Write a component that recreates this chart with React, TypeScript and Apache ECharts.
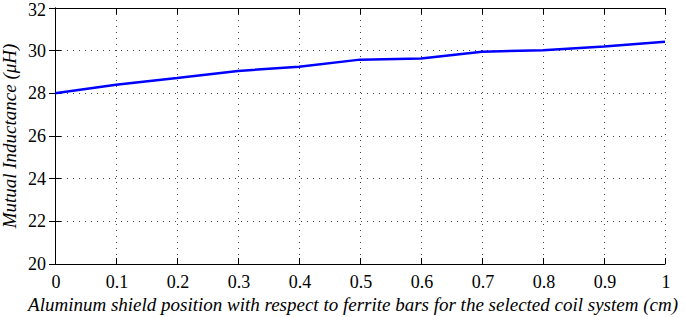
import React, { useEffect, useRef } from "react";
import * as echarts from "echarts";

const positions = [0, 0.1, 0.2, 0.3, 0.4, 0.5, 0.6, 0.7, 0.8, 0.9, 1.0];
const inductance = [28.0, 28.4, 28.72, 29.05, 29.25, 29.58, 29.63, 29.95, 30.02, 30.2, 30.42];
const xTicks = [0, 0.1, 0.2, 0.3, 0.4, 0.5, 0.6, 0.7, 0.8, 0.9, 1];
const xTickLabels = ["0", "0.1", "0.2", "0.3", "0.4", "0.5", "0.6", "0.7", "0.8", "0.9", "1"];
const yTicks = [20, 22, 24, 26, 28, 30, 32];
const yTickLabels = ["20", "22", "24", "26", "28", "30", "32"];
const xTitle = "Aluminum shield position with respect to ferrite bars for the selected coil system (cm)";
const yTitle = "Mutual Inductance (\u03bcH)";

const FONT = "Liberation Serif";

export default function App() {
  const ref = useRef<HTMLDivElement>(null);
  useEffect(() => {
    if (!ref.current) return;
    const chart = echarts.init(ref.current, null, { renderer: "svg" });
    const axisLine = { show: true, lineStyle: { color: "#000", width: 1 } };
    const tick = { show: true, inside: true, length: 6, lineStyle: { color: "#000" } };
    const split = { show: true, lineStyle: { color: "#444", width: 1, type: [1, 5] as any } };
    const xBase = { type: "value", min: 0, max: 1, interval: 0.1, axisLine, axisTick: tick, axisLabel: { show: false } };
    const yBase = { type: "value", min: 20, max: 32, interval: 2, axisLine, axisTick: tick, axisLabel: { show: false } };
    chart.setOption({
      animation: false,
      backgroundColor: "#fff",
      grid: { left: 55, right: 20, top: 8, bottom: 53, containLabel: false, outerBoundsMode: "none" },
      xAxis: [
        { ...xBase, position: "bottom", splitLine: split },
        { ...xBase, position: "top", splitLine: { show: false } },
      ],
      yAxis: [
        { ...yBase, position: "left", splitLine: split },
        { ...yBase, position: "right", splitLine: { show: false } },
      ],
      series: [
        {
          type: "line",
          data: positions.map((p, i) => [p, inductance[i]]),
          showSymbol: false,
          lineStyle: { color: "#0000ff", width: 2.5 },
          xAxisIndex: 0,
          yAxisIndex: 0,
        },
      ],
    });

    const finder = { xAxisIndex: 0, yAxisIndex: 0 };
    const origin = chart.convertToPixel(finder, [0, 20]) as number[];
    const corner = chart.convertToPixel(finder, [1, 32]) as number[];
    const leftX = origin[0];
    const bottomY = origin[1];
    const rightX = corner[0];
    const topY = corner[1];
    const graphics: any[] = [];
    xTicks.forEach((v, i) => {
      const px = chart.convertToPixel(finder, [v, 20]) as number[];
      graphics.push({
        type: "text",
        x: px[0] + 1,
        y: bottomY + 17.5,
        style: { text: xTickLabels[i], fontFamily: FONT, fontSize: 18, fill: "#000", align: "center", verticalAlign: "middle" },
      });
    });
    yTicks.forEach((v, i) => {
      const px = chart.convertToPixel(finder, [0, v]) as number[];
      graphics.push({
        type: "text",
        x: leftX - 9,
        y: Math.max(px[1], 9.5),
        style: { text: yTickLabels[i], fontFamily: FONT, fontSize: 18, fill: "#000", align: "right", verticalAlign: "middle" },
      });
    });
    graphics.push({
      type: "text",
      x: (leftX + rightX) / 2 - 7,
      y: bottomY + 40,
      style: { text: xTitle, fontFamily: FONT, fontSize: 19, fontStyle: "italic", fill: "#000", align: "center", verticalAlign: "middle" },
    });
    graphics.push({
      type: "text",
      x: 9.5,
      y: (topY + bottomY) / 2,
      rotation: Math.PI / 2,
      style: { text: yTitle, fontFamily: FONT, fontSize: 19, fontStyle: "italic", fill: "#000", align: "center", verticalAlign: "middle" },
    });
    chart.setOption({ graphic: graphics });
    return () => chart.dispose();
  }, []);
  return <div ref={ref} style={{ width: 685, height: 317, position: "absolute", left: 0, top: 0 }} />;
}
